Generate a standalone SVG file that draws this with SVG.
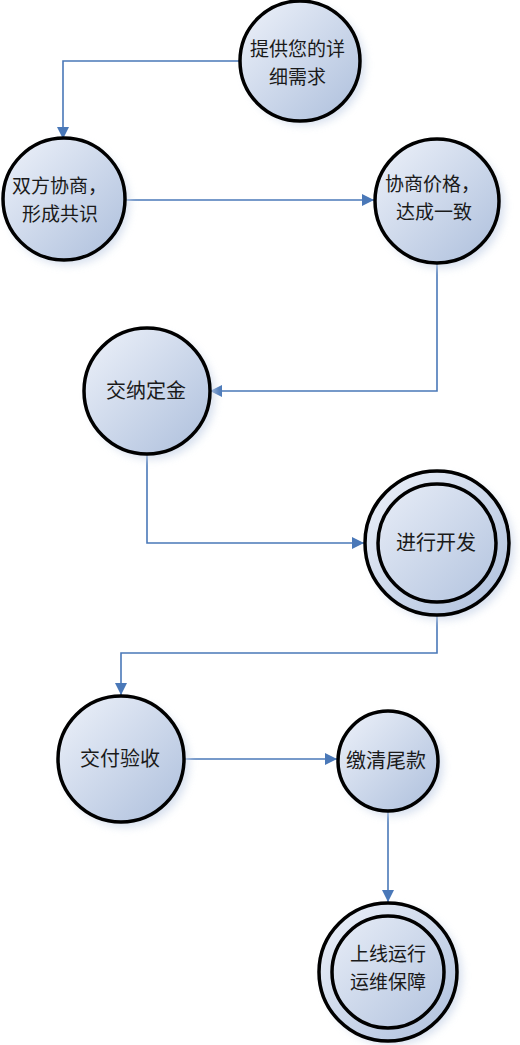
<svg xmlns="http://www.w3.org/2000/svg" width="520" height="1045" viewBox="0 0 520 1045">
<defs>
<linearGradient id="g" x1="0" y1="0" x2="1" y2="1">
<stop offset="0" stop-color="#eef2fa"/>
<stop offset="1" stop-color="#adbfdc"/>
</linearGradient>
<filter id="sh" x="-30%" y="-30%" width="160%" height="160%">
<feGaussianBlur stdDeviation="4"/>
</filter>
<marker id="arr" viewBox="0 0 12 12" refX="12" refY="6" markerWidth="12" markerHeight="12" markerUnits="userSpaceOnUse" orient="auto">
<path d="M0,0 L12,6 L0,12 Z" fill="#4a78b8"/>
</marker>
<style>
.c{fill:url(#g);stroke:#000;stroke-width:3.5}
.i{fill:none;stroke:#000;stroke-width:3.5}
.s{fill:#cdd8ea;filter:url(#sh);opacity:0.8}
.t{font-family:"Microsoft YaHei","Noto Sans CJK SC",sans-serif;font-size:20px;fill:#1a1a1a}
.t2{font-family:"Microsoft YaHei","Noto Sans CJK SC",sans-serif;font-size:19px;fill:#1a1a1a}
.l{fill:none;stroke:#4a78b8;stroke-width:1.6;marker-end:url(#arr)}
</style>
</defs>
<rect width="520" height="1045" fill="#fff"/>
<g id="connectors">
<path class="l" d="M241,61 H63 V139"/>
<path class="l" d="M125,200 H374"/>
<path class="l" d="M437,263 V391 H210"/>
<path class="l" d="M147,455 V543 H364"/>
<path class="l" d="M437,614 V653 H121 V695"/>
<path class="l" d="M184,759 H337"/>
<path class="l" d="M388,811 V902"/>
</g>
<g id="n1">
<circle class="s" cx="305" cy="65" r="60"/>
<circle class="c" cx="300" cy="61" r="60"/>
<text class="t2" x="250" y="56">提供您的详</text>
<text class="t2" x="269" y="84">细需求</text>
</g>
<g id="n2">
<circle class="s" cx="68" cy="204" r="61"/>
<circle class="c" cx="64" cy="199" r="61"/>
<text class="t2" x="12" y="193">双方协商，</text>
<text class="t2" x="22" y="221">形成共识</text>
</g>
<g id="n3">
<circle class="s" cx="442" cy="206" r="62"/>
<circle class="c" cx="437" cy="201" r="62"/>
<text class="t2" x="385" y="191">协商价格，</text>
<text class="t2" x="396" y="219">达成一致</text>
</g>
<g id="n4">
<circle class="s" cx="152" cy="396" r="63"/>
<circle class="c" cx="147" cy="391" r="63"/>
<text class="t" x="106" y="398">交纳定金</text>
</g>
<g id="n5">
<circle class="s" cx="442" cy="548" r="72"/>
<circle class="c" cx="437" cy="543" r="72"/>
<circle class="i" cx="437" cy="543" r="59"/>
<text class="t" x="396" y="550">进行开发</text>
</g>
<g id="n6">
<circle class="s" cx="126" cy="764" r="63"/>
<circle class="c" cx="121" cy="759" r="63"/>
<text class="t" x="80" y="766">交付验收</text>
</g>
<g id="n7">
<circle class="s" cx="393" cy="766" r="50"/>
<circle class="c" cx="388" cy="761" r="50"/>
<text class="t" x="346" y="768">缴清尾款</text>
</g>
<g id="n8">
<circle class="s" cx="393" cy="976" r="69"/>
<circle class="c" cx="388" cy="972" r="69"/>
<circle class="i" cx="388" cy="972" r="56"/>
<text class="t2" x="350" y="961">上线运行</text>
<text class="t2" x="350" y="989">运维保障</text>
</g>
</svg>
